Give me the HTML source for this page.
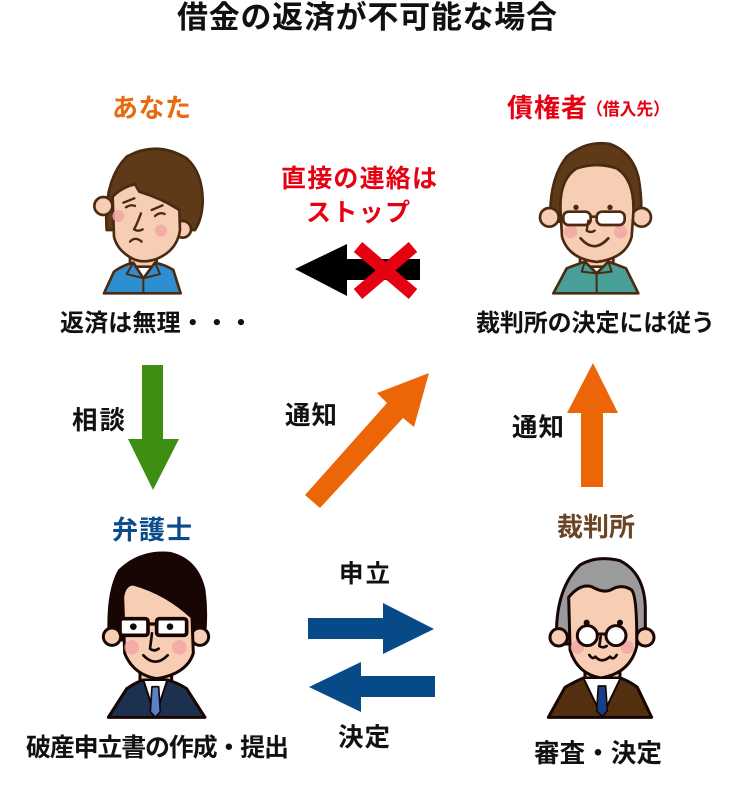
<!DOCTYPE html>
<html><head><meta charset="utf-8"><style>
html,body{margin:0;padding:0;background:#fff;}
svg{display:block;}
text{font-family:"Liberation Sans","Noto Sans CJK JP",sans-serif;font-weight:bold;}
</style></head><body>
<svg width="752" height="793" viewBox="0 0 752 793" xmlns="http://www.w3.org/2000/svg">
<rect width="752" height="793" fill="#fff"/>

<!-- Texts -->
<text x="177" y="28" font-size="31" textLength="380" fill="#111">借金の返済が不可能な場合</text>
<text x="112" y="117" font-size="26" textLength="79" fill="#ea6a12">あなた</text>
<text x="507" y="117" font-size="26" textLength="80" fill="#e50012">債権者</text>
<text x="586" y="115" font-size="17" textLength="84" fill="#e50012">（借入先）</text>
<text x="281" y="187" font-size="25" textLength="156" fill="#e50012">直接の連絡は</text>
<text x="306" y="221" font-size="25" textLength="104" fill="#e50012">ストップ</text>
<text x="60" y="331" font-size="24" textLength="193" fill="#111">返済は無理・・・</text>
<text x="476" y="331" font-size="24" textLength="239" fill="#111">裁判所の決定には従う</text>
<text x="72" y="429" font-size="25.5" textLength="53" fill="#111">相談</text>
<text x="285" y="424" font-size="25.5" textLength="52" fill="#111">通知</text>
<text x="512" y="436" font-size="25.5" textLength="52" fill="#111">通知</text>
<text x="112" y="539" font-size="26" textLength="80" fill="#0a4c8a">弁護士</text>
<text x="557" y="536" font-size="26" textLength="78" fill="#6a4525">裁判所</text>
<text x="339" y="582" font-size="24.5" textLength="51" fill="#111">申立</text>
<text x="338" y="746" font-size="25.5" textLength="52" fill="#111">決定</text>
<text x="26" y="756" font-size="25" textLength="263" fill="#111">破産申立書の作成・提出</text>
<text x="534" y="762" font-size="25.5" textLength="128" fill="#111">審査・決定</text>

<!-- Arrows -->
<polygon points="295,269 347,244 347,259 420,259 420,280 347,280 347,296" fill="#000"/>
<g stroke="#e50012" stroke-width="13" stroke-linecap="butt">
<line x1="358" y1="247" x2="413" y2="294"/>
<line x1="413" y1="247" x2="358" y2="294"/>
</g>
<polygon points="429,373 414,427 403,418 320,508 305,495 387,403 377,393" fill="#ec6608"/>
<polygon points="593,363 618,413 603,413 603,487 581,487 581,413 567,413" fill="#ec6608"/>
<polygon points="142,365 163,365 163,439 179,439 153,490 128,439 142,439" fill="#3f8e14"/>
<polygon points="308,618 383,618 383,603 434,629 383,654 383,639 308,639" fill="#064a87"/>
<polygon points="309,687 361,662 361,676 435,676 435,697 361,697 361,712" fill="#064a87"/>

<!-- Character A: あなた -->
<g transform="translate(80,130) scale(0.3333)" stroke="#4a2a10" stroke-width="8" stroke-linejoin="round" stroke-linecap="round">
  <path d="M80,300 Q70,150 140,80 Q230,30 320,85 Q370,130 368,220 Q365,270 345,300 Z" fill="#5f3a19"/>
  <circle cx="70" cy="228" r="27" fill="#f7cdb3"/>
  <circle cx="308" cy="298" r="25" fill="#f7cdb3"/>
  <path d="M150,370 L150,410 L230,410 L230,360 Z" fill="#f7cdb3"/>
  <path d="M98,200 Q125,172 165,163 L178,185 Q245,205 298,240 L300,300 Q292,360 232,386 Q190,402 158,386 Q112,362 102,320 Z" fill="#f7cdb3"/>
  <circle cx="115" cy="258" r="18" fill="#f2a4a4" stroke="none" opacity="0.8"/>
  <circle cx="243" cy="302" r="18" fill="#f2a4a4" stroke="none" opacity="0.8"/>
  <path d="M130,218 L163,205" fill="none" stroke-width="7"/>
  <path d="M215,240 L248,226" fill="none" stroke-width="7"/>
  <path d="M138,232 Q152,222 165,228" fill="none" stroke-width="7"/>
  <path d="M225,258 Q240,245 254,252" fill="none" stroke-width="7"/>
  <path d="M183,250 Q170,285 162,298 Q175,306 188,298" fill="none" stroke-width="7"/>
  <path d="M150,335 Q165,318 185,335" fill="none" stroke-width="7"/>
  <path d="M72,490 L102,425 Q130,405 160,398 L190,445 L225,398 Q260,406 280,420 L302,490 Z" fill="#2f8ecf"/>
  <path d="M160,398 L140,432 L190,445 L240,432 L225,398" fill="none" stroke-width="6"/>
  <path d="M190,445 L190,490" fill="none" stroke-width="6"/>
</g>

<!-- Character B: 債権者 -->
<g transform="translate(520,130) scale(0.3333)" stroke="#4a2a10" stroke-width="8" stroke-linejoin="round" stroke-linecap="round">
  <path d="M92,275 Q85,150 140,80 Q200,30 270,42 Q335,65 355,140 Q368,210 362,275 Z" fill="#5f3a19"/>
  <circle cx="88" cy="262" r="28" fill="#f7cdb3"/>
  <circle cx="365" cy="262" r="28" fill="#f7cdb3"/>
  <path d="M180,370 L180,410 L280,410 L280,370 Z" fill="#f7cdb3"/>
  <path d="M122,250 Q115,150 170,115 Q230,95 290,115 Q345,150 340,250 L335,320 Q318,385 230,396 Q145,386 126,320 Z" fill="#f7cdb3"/>
  <circle cx="152" cy="305" r="20" fill="#f2a4a4" stroke="none" opacity="0.8"/>
  <circle cx="302" cy="305" r="20" fill="#f2a4a4" stroke="none" opacity="0.8"/>
  <circle cx="168" cy="232" r="8" fill="#4a2a10" stroke="none"/>
  <circle cx="270" cy="232" r="8" fill="#4a2a10" stroke="none"/>
  <rect x="130" y="245" width="82" height="40" rx="16" fill="#fff"/>
  <rect x="230" y="245" width="84" height="40" rx="16" fill="#fff"/>
  <path d="M212,260 L230,260" fill="none"/>
  <path d="M205,272 L200,302 Q212,310 224,302" fill="none" stroke-width="7"/>
  <path d="M182,325 Q222,372 265,325" fill="none" stroke-width="8"/>
  <path d="M100,490 L140,415 Q180,400 195,395 L230,430 L265,395 Q290,404 318,415 L355,490 Z" fill="#479f98"/>
  <path d="M195,395 L185,425 L230,430 L275,425 L265,395" fill="none" stroke-width="6"/>
  <path d="M230,430 L230,490" fill="none" stroke-width="6"/>
</g>

<!-- Character C: 弁護士 -->
<g transform="translate(90,540) scale(0.3333)" stroke="#170603" stroke-width="9" stroke-linejoin="round" stroke-linecap="round">
  <path d="M58,300 Q50,160 88,92 Q150,32 240,40 Q322,60 342,150 Q352,225 342,300 Z" fill="#170603"/>
  <circle cx="66" cy="290" r="26" fill="#f7cdb3"/>
  <circle cx="330" cy="290" r="26" fill="#f7cdb3"/>
  <path d="M150,380 L150,425 L245,425 L245,380 Z" fill="#f7cdb3"/>
  <path d="M98,170 Q105,132 130,132 Q230,160 306,232 L310,340 Q290,402 200,416 Q130,404 104,340 Z" fill="#f7cdb3"/>
  <circle cx="125" cy="322" r="22" fill="#f2a4a4" stroke="none" opacity="0.8"/>
  <circle cx="268" cy="322" r="22" fill="#f2a4a4" stroke="none" opacity="0.8"/>
  <rect x="90" y="236" width="84" height="50" rx="8" fill="#fff" stroke-width="11"/>
  <rect x="200" y="236" width="90" height="50" rx="8" fill="#fff" stroke-width="11"/>
  <path d="M174,252 L200,252" fill="none" stroke-width="10"/>
  <circle cx="130" cy="260" r="10" fill="#170603" stroke="none"/>
  <circle cx="240" cy="260" r="10" fill="#170603" stroke="none"/>
  <path d="M186,280 L180,326 Q192,336 206,326" fill="none" stroke-width="8"/>
  <path d="M160,346 Q196,384 233,346" fill="none" stroke-width="8"/>
  <path d="M55,532 L110,446 Q140,426 160,420 L232,420 Q262,428 290,446 L345,532 Z" fill="#1c3050"/>
  <path d="M160,420 L196,530 L232,420 Z" fill="#fff" stroke-width="6"/>
  <path d="M186,440 L206,440 L211,515 L196,532 L181,515 Z" fill="#5a80c8" stroke-width="5"/>
</g>

<!-- Character D: 裁判所 -->
<g transform="translate(530,540) scale(0.3333)" stroke="#170603" stroke-width="9" stroke-linejoin="round" stroke-linecap="round">
  <path d="M80,312 Q72,150 150,75 Q200,45 270,62 Q342,98 346,200 L346,312 Z" fill="#9b9b9b"/>
  <circle cx="86" cy="292" r="26" fill="#f7cdb3"/>
  <circle cx="346" cy="292" r="26" fill="#f7cdb3"/>
  <path d="M165,380 L165,425 L270,425 L270,380 Z" fill="#f7cdb3"/>
  <path d="M120,320 L116,172 Q150,130 185,140 Q220,160 242,150 Q275,130 305,150 Q322,170 320,320 Q300,400 212,414 Q142,402 120,330 Z" fill="#f7cdb3"/>
  <circle cx="142" cy="322" r="20" fill="#f2a4a4" stroke="none" opacity="0.8"/>
  <circle cx="292" cy="322" r="20" fill="#f2a4a4" stroke="none" opacity="0.8"/>
  <circle cx="170" cy="248" r="9" fill="#170603" stroke="none"/>
  <circle cx="270" cy="248" r="9" fill="#170603" stroke="none"/>
  <circle cx="172" cy="287" r="30" fill="#fff" stroke-width="9"/>
  <circle cx="258" cy="287" r="30" fill="#fff" stroke-width="9"/>
  <path d="M202,282 L228,282" fill="none"/>
  <path d="M212,290 L208,318 Q218,326 230,318" fill="none" stroke-width="8"/>
  <path d="M178,345 Q188,360 196,350 Q215,372 240,350 Q250,362 260,345" fill="none" stroke-width="8"/>
  <path d="M55,532 L105,442 Q140,422 160,414 L272,414 Q302,426 322,442 L365,532 Z" fill="#52300f"/>
  <path d="M160,414 L216,530 L272,414 Z" fill="#fff" stroke-width="6"/>
  <path d="M205,438 L227,438 L232,512 L216,530 L200,512 Z" fill="#17408a" stroke-width="5"/>
</g>
</svg>
</body></html>
